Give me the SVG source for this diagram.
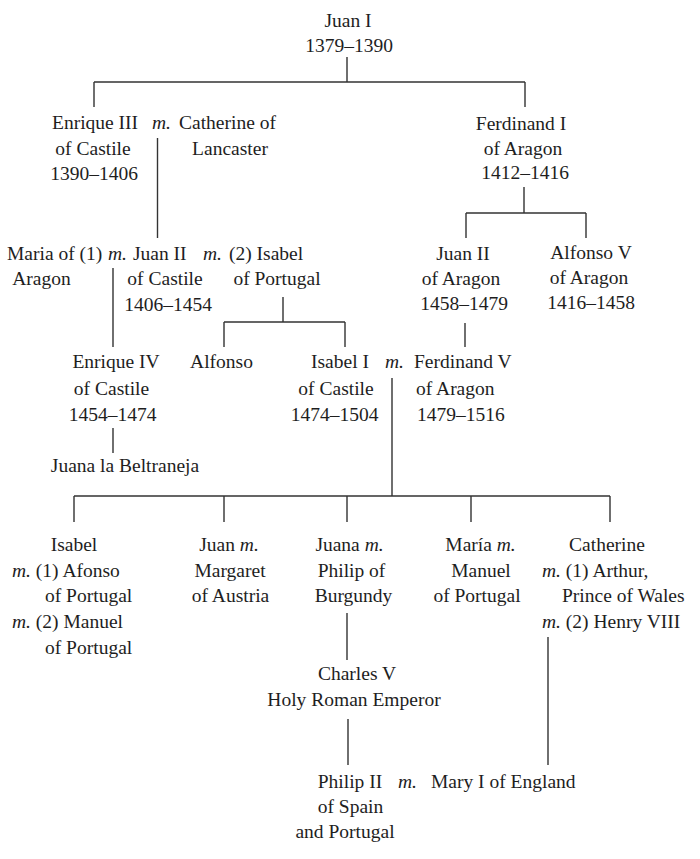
<svg xmlns="http://www.w3.org/2000/svg" width="700" height="859" viewBox="0 0 700 859">
<style>
text{font-family:"Liberation Serif","Times New Roman",serif;font-size:19.5px;fill:#1e1e1e}
.c{text-anchor:middle}
.i{font-style:italic}
.ln{stroke:#333;stroke-width:1.4;fill:none}
</style>
<rect width="700" height="859" fill="#fff"/>
<g id="connectors" class="ln">
<path d="M347 57V82M94 82H525M94 82V107M525 82V107"/>
<path d="M157.5 138V238"/>
<path d="M524 187V213M466 213H586M466 213V238M586 213V238"/>
<path d="M113 268V347"/>
<path d="M283 297V322M224 322H345M224 322V347M345 322V347"/>
<path d="M465 323V347"/>
<path d="M113 428V453"/>
<path d="M392 378V496M74 496H610M74 496V522M224 496V522M347 496V522M471 496V522M610 496V522"/>
<path d="M347 613V660"/>
<path d="M348 719V765"/>
<path d="M548 637V765"/>
</g>
<g id="juan1"><text class="c" x="348" y="27">Juan I</text><text class="c" x="349" y="52">1379–1390</text></g>
<g id="enrique3"><text x="52" y="129">Enrique III</text><text class="c" x="93" y="155">of Castile</text><text class="c" x="94" y="180">1390–1406</text></g>
<g id="m1"><text class="i" x="152" y="129">m.</text></g>
<g id="catherine-lancaster"><text x="179" y="129">Catherine of</text><text class="c" x="230" y="155">Lancaster</text></g>
<g id="ferdinand1"><text class="c" x="521" y="130">Ferdinand I</text><text class="c" x="523" y="155">of Aragon</text><text class="c" x="525" y="179">1412–1416</text></g>
<g id="maria-aragon"><text x="7" y="260">Maria of (1)</text><text class="c" x="41.5" y="285">Aragon</text></g>
<g id="m2"><text class="i" x="108" y="260">m.</text></g>
<g id="juan2-castile"><text x="133" y="260">Juan II</text><text class="c" x="165" y="285">of Castile</text><text class="c" x="168" y="311">1406–1454</text></g>
<g id="m3"><text class="i" x="203" y="260">m.</text></g>
<g id="isabel-portugal"><text x="229" y="260">(2) Isabel</text><text class="c" x="277" y="285">of Portugal</text></g>
<g id="juan2-aragon"><text class="c" x="463" y="260">Juan II</text><text class="c" x="461" y="285">of Aragon</text><text class="c" x="464" y="310">1458–1479</text></g>
<g id="alfonso5"><text class="c" x="591" y="259">Alfonso V</text><text class="c" x="589" y="284">of Aragon</text><text class="c" x="591" y="309">1416–1458</text></g>
<g id="enrique4"><text class="c" x="116" y="368">Enrique IV</text><text class="c" x="111.5" y="395">of Castile</text><text class="c" x="112.5" y="421">1454–1474</text></g>
<g id="alfonso"><text class="c" x="221.5" y="368">Alfonso</text></g>
<g id="isabel1"><text class="c" x="340" y="368">Isabel I</text><text class="c" x="336" y="395">of Castile</text><text class="c" x="334.5" y="421">1474–1504</text></g>
<g id="m4"><text class="i" x="385" y="368">m.</text></g>
<g id="ferdinand5"><text x="414" y="368">Ferdinand V</text><text x="416" y="395">of Aragon</text><text x="417" y="421">1479–1516</text></g>
<g id="juana-beltraneja"><text class="c" x="125" y="472">Juana la Beltraneja</text></g>
<g id="isabel"><text class="c" x="74" y="551">Isabel</text><text x="12" y="577"><tspan class="i">m.</tspan> (1) Afonso</text><text x="45" y="602">of Portugal</text><text x="12" y="628"><tspan class="i">m.</tspan> (2) Manuel</text><text x="45" y="654">of Portugal</text></g>
<g id="juan"><text class="c" x="229" y="551">Juan <tspan class="i">m.</tspan></text><text class="c" x="230" y="577">Margaret</text><text class="c" x="230.5" y="602">of Austria</text></g>
<g id="juana"><text class="c" x="349.5" y="551">Juana <tspan class="i">m.</tspan></text><text class="c" x="351.5" y="577">Philip of</text><text class="c" x="353.5" y="602">Burgundy</text></g>
<g id="maria"><text class="c" x="480.5" y="551">María <tspan class="i">m.</tspan></text><text class="c" x="481" y="577">Manuel</text><text class="c" x="477" y="602">of Portugal</text></g>
<g id="catherine"><text class="c" x="607" y="551">Catherine</text><text x="542" y="577"><tspan class="i">m.</tspan> (1) Arthur,</text><text x="562" y="602">Prince of Wales</text><text x="542" y="628"><tspan class="i">m.</tspan> (2) Henry VIII</text></g>
<g id="charles5"><text class="c" x="357" y="680">Charles V</text><text class="c" x="354" y="706">Holy Roman Emperor</text></g>
<g id="philip2"><text class="c" x="350" y="788">Philip II</text><text class="c" x="350.5" y="813">of Spain</text><text class="c" x="345" y="838">and Portugal</text></g>
<g id="m5"><text class="i" x="398" y="788">m.</text></g>
<g id="mary1"><text x="431" y="788">Mary I of England</text></g>
</svg>
